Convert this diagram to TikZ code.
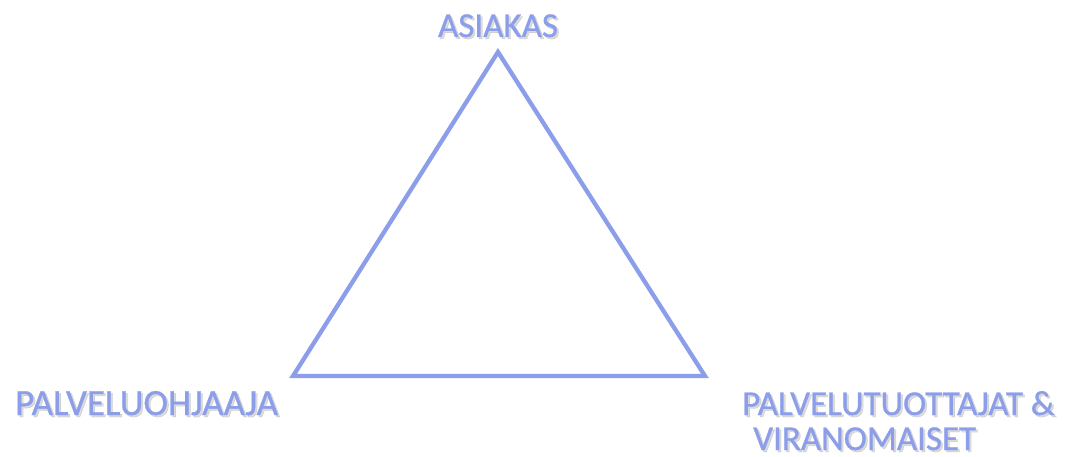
\documentclass[tikz,border=0pt]{standalone}
\usepackage{fontspec}
\setmainfont{Carlito}
\newfontfamily\lblfont{Carlito}[FakeBold=0.7]
\definecolor{tri}{RGB}{140,158,234}
\begin{document}
\begin{tikzpicture}[x=1pt,y=-1pt,
  lbl/.style={text=tri, inner sep=0pt},
  shd/.style={text=black, opacity=0.14, inner sep=0pt},
  fa/.style={font=\lblfont\fontsize{35}{37}\selectfont},
  fb/.style={font=\lblfont\fontsize{37}{39}\selectfont}]
\useasboundingbox[fill=white] (0,0) rectangle (1077,457);
\coordinate (A) at (498,52);
\coordinate (B) at (293,376);
\coordinate (C) at (705,376);
\draw[tri, line width=4.3, line join=miter] (A) -- (B) -- (C) -- cycle;
% shadows
\node[shd, fa, anchor=base] (asS) at (500,39) {ASIAKAS};
\node[shd, fb, anchor=base west] (poS) at (17,417) {PALVELUOHJAAJA};
\node[shd, fa, anchor=base west] (pt1S) at (744,417) {PALVELUTUOTTAJAT \&};
\node[shd, fa, anchor=base west] (pt2S) at (755,452) {VIRANOMAISET};
% labels
\node[lbl, fa, anchor=base] (as) at (498,37) {ASIAKAS};
\node[lbl, fb, anchor=base west] (po) at (15,415) {PALVELUOHJAAJA};
\node[lbl, fa, anchor=base west] (pt1) at (742,415) {PALVELUTUOTTAJAT \&};
\node[lbl, fa, anchor=base west] (pt2) at (753,450) {VIRANOMAISET};
\end{tikzpicture}
\end{document}
